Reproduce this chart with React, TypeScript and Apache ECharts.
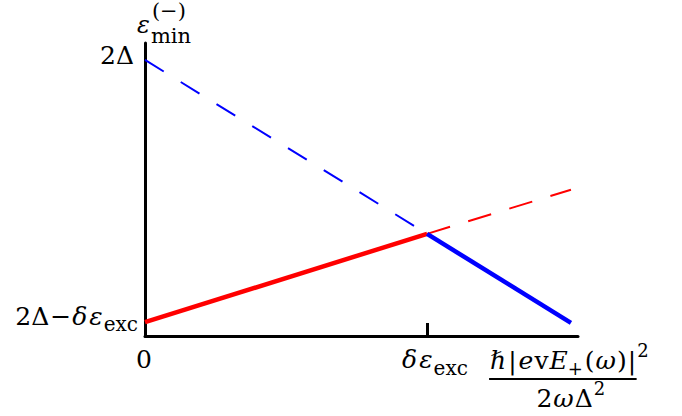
import React, { useEffect, useRef } from 'react';
import * as echarts from 'echarts';

// ---- data (abstract units: δε_exc = 1 on x; 2Δ = 2 on y) ----
const X_MAX = 1.535;
const Y_MAX = 2.123;
const TICK_X = 1; // δε_exc
const TWO_DELTA = 2;
const LOW_START = 0.1; // 2Δ − δε_exc
const blueDashed = [[0, 2], [1, 0.74]];
const blueSolid = [[1, 0.74], [1.51, 0.095]];
const redSolid = [[0, 0.1], [1, 0.74]];
const redDashed = [[1, 0.74], [1.51, 1.06]];

const FAMILY = '"DejaVu Serif", serif';
const BLUE = '#0000ff';
const RED = '#ff0000';
const M = 25; // main math size
const SB = 20; // subscript size
const SP = 18; // superscript size

type Piece = { t: string; s: number; i?: boolean; dy?: number; gap?: number; back?: boolean };

let measureCtx: CanvasRenderingContext2D | null = null;
function measure(t: string, s: number, i?: boolean) {
  if (!measureCtx) measureCtx = document.createElement('canvas').getContext('2d');
  measureCtx!.font = `${i ? 'italic ' : ''}${s}px ${FAMILY}`;
  return measureCtx!.measureText(t).width;
}

function layout(pieces: Piece[]) {
  let x = 0;
  let prevLeft = 0;
  let maxRight = 0;
  const out: { p: Piece; x: number }[] = [];
  for (const p of pieces) {
    const left = p.back ? prevLeft + (p.gap || 0) : x + (p.gap || 0);
    const w = measure(p.t, p.s, p.i);
    out.push({ p, x: left });
    prevLeft = left;
    x = Math.max(x, left + w);
    maxRight = Math.max(maxRight, left + w);
  }
  return { items: out, width: maxRight };
}

function formula(pieces: Piece[], x: number, baseline: number, align: 'left' | 'right' | 'center') {
  const { items, width } = layout(pieces);
  const start = align === 'left' ? x : align === 'right' ? x - width : x - width / 2;
  return {
    width,
    start,
    els: items.map(({ p, x: px }) => ({
      type: 'text',
      silent: true,
      x: start + px,
      y: baseline + (p.dy || 0) - 0.35 * p.s,
      style: {
        text: p.t,
        fontSize: p.s,
        fontFamily: FAMILY,
        fontStyle: p.i ? 'italic' : 'normal',
        fill: '#000',
        align: 'left',
        verticalAlign: 'middle',
      },
    })),
  };
}

const option = {
  animation: false,
  backgroundColor: '#ffffff',
  grid: { left: 145, top: 43, width: 433, height: 293, containLabel: false },
  xAxis: {
    type: 'value',
    min: 0,
    max: X_MAX,
    axisLine: { show: true, lineStyle: { color: '#000', width: 3 } },
    axisTick: { show: true, customValues: [TICK_X], inside: true, length: 13, lineStyle: { color: '#000', width: 3 } },
    axisLabel: { show: false },
    splitLine: { show: false },
  },
  yAxis: {
    type: 'value',
    min: 0,
    max: Y_MAX,
    axisLine: { show: true, lineStyle: { color: '#000', width: 3 } },
    axisTick: { show: false },
    axisLabel: { show: false },
    splitLine: { show: false },
  },
  series: [
    { type: 'line', data: redDashed, symbol: 'none', lineStyle: { color: RED, width: 2, type: [24, 19] }, z: 2 },
    { type: 'line', data: blueDashed, symbol: 'none', lineStyle: { color: BLUE, width: 2, type: [22, 20] }, z: 2 },
    { type: 'line', data: redSolid, symbol: 'none', lineStyle: { color: RED, width: 4.5 }, z: 3 },
    { type: 'line', data: blueSolid, symbol: 'none', lineStyle: { color: BLUE, width: 4.5 }, z: 4 },
  ],
};

export default function App() {
  const ref = useRef<HTMLDivElement>(null);
  useEffect(() => {
    document.body.style.margin = '0';
    const chart = echarts.init(ref.current!, null, { renderer: 'svg' });
    chart.setOption(option as any);
    const P = (x: number, y: number) => chart.convertToPixel({ gridIndex: 0 }, [x, y]) as number[];
    const o = P(0, 0);
    const top = P(0, Y_MAX);
    const tick = P(TICK_X, 0);
    const twoD = P(0, TWO_DELTA);
    const low = P(0, LOW_START);
    const els: any[] = [];

    // y-axis title ε_min^(−)
    els.push(
      ...formula(
        [
          { t: 'ε', s: 24, i: true },
          { t: 'min', s: 21, dy: 10, gap: 1 },
          { t: '(−)', s: 21, dy: -15, back: true, gap: 1 },
        ],
        o[0] - 8,
        top[1] - 10,
        'left'
      ).els
    );

    // 2Δ
    els.push(...formula([{ t: '2Δ', s: M }], o[0] - 11, twoD[1] + 4, 'right').els);

    // 2Δ−δε_exc
    els.push(
      ...formula(
        [
          { t: '2Δ', s: M },
          { t: '−', s: M, gap: 1 },
          { t: 'δ', s: M, i: true, gap: 1 },
          { t: 'ε', s: M, i: true, gap: 2 },
          { t: 'exc', s: SB, dy: 6, gap: 1 },
        ],
        o[0] - 7,
        low[1] + 3,
        'right'
      ).els
    );

    // 0
    els.push(...formula([{ t: '0', s: M }], o[0] - 1, o[1] + 32, 'center').els);

    // δε_exc tick label
    els.push(
      ...formula(
        [
          { t: 'δ', s: M, i: true },
          { t: 'ε', s: M, i: true, gap: 2 },
          { t: 'exc', s: SB, dy: 7, gap: 1 },
        ],
        tick[0] - 25,
        o[1] + 32,
        'left'
      ).els
    );

    // numerator
    const num = formula(
      [
        { t: 'ℏ', s: M, i: true },
        { t: '|', s: M, gap: 2 },
        { t: 'e', s: M, i: true, gap: 2 },
        { t: 'v', s: M, gap: 1 },
        { t: 'E', s: M, i: true, gap: 1 },
        { t: '+', s: SP, dy: 6 },
        { t: '(', s: M, gap: 2 },
        { t: 'ω', s: M, i: true, gap: 1 },
        { t: ')', s: M, gap: 1 },
        { t: '|', s: M, gap: 1 },
        { t: '2', s: SP, dy: -12, gap: 1 },
      ],
      tick[0] + 63,
      o[1] + 33,
      'left'
    );
    els.push(...num.els);
    const lineL = num.start - 1;
    const lineR = num.start + num.width - 12;
    els.push({
      type: 'line',
      silent: true,
      shape: { x1: lineL, y1: o[1] + 43, x2: lineR, y2: o[1] + 43 },
      style: { stroke: '#000', lineWidth: 2 },
    });
    els.push(
      ...formula(
        [
          { t: '2', s: M },
          { t: 'ω', s: M, i: true, gap: 1 },
          { t: 'Δ', s: M, gap: 1 },
          { t: '2', s: SP, dy: -12, gap: 1 },
        ],
        (lineL + lineR) / 2 + 8,
        o[1] + 71,
        'center'
      ).els
    );

    chart.setOption({ graphic: { elements: els } } as any);
    return () => chart.dispose();
  }, []);
  return <div ref={ref} style={{ width: 682, height: 416 }} />;
}
